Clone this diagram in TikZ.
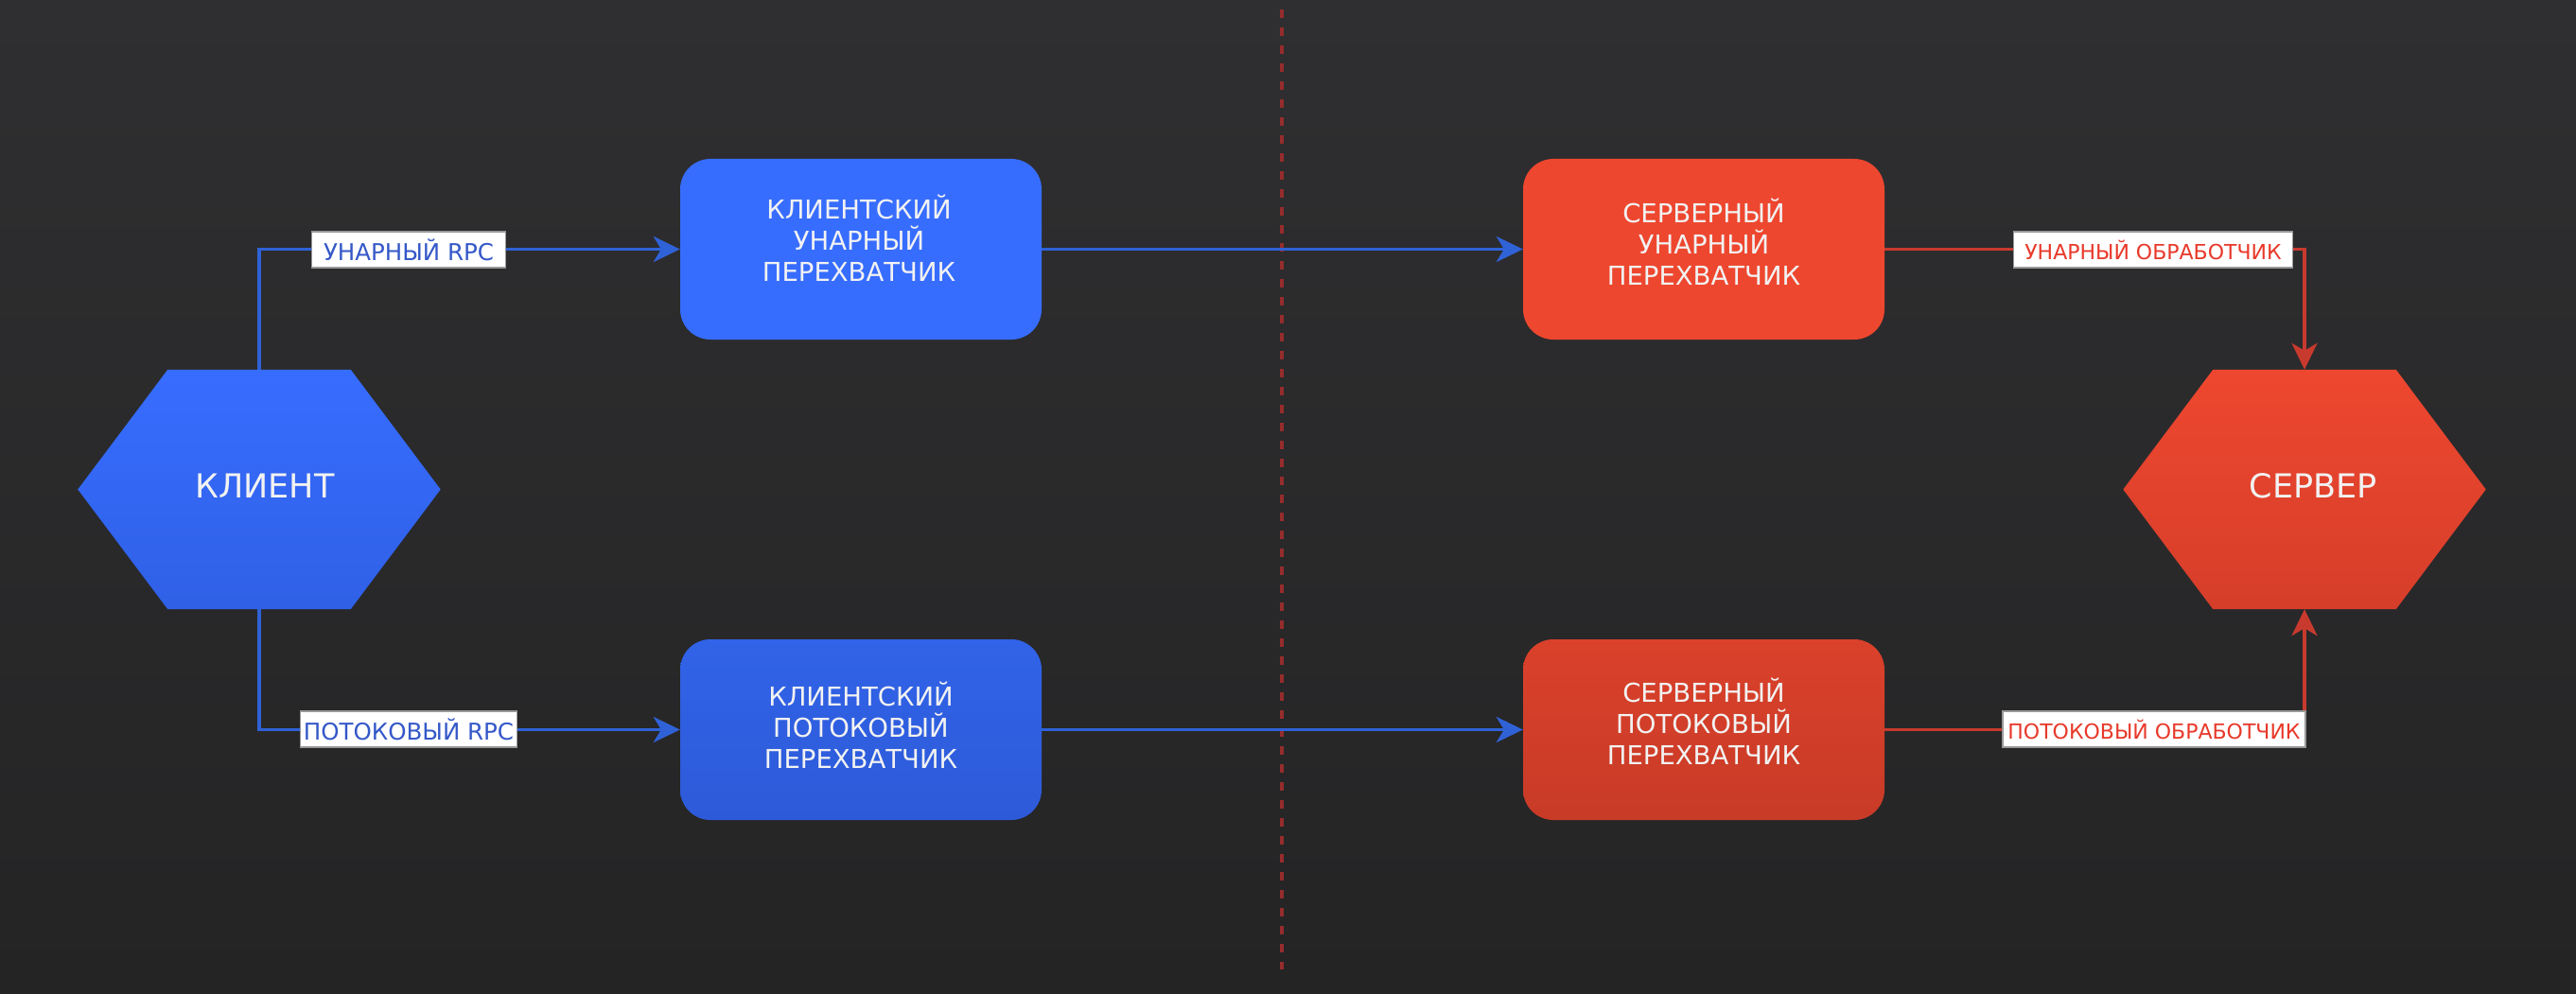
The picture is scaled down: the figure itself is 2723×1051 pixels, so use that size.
\documentclass[tikz,border=0pt]{standalone}
\usepackage{fontspec}
\setmainfont{DejaVu Sans}
\usetikzlibrary{arrows.meta,calc}
\definecolor{bgtop}{RGB}{47,47,49}
\definecolor{bgbot}{RGB}{36,36,37}
\definecolor{bluetop}{RGB}{55,109,255}
\definecolor{bluebot}{RGB}{47,96,230}
\definecolor{blue2top}{RGB}{49,99,232}
\definecolor{blue2bot}{RGB}{45,90,216}
\definecolor{redtop}{RGB}{238,71,47}
\definecolor{redbot}{RGB}{214,62,42}
\definecolor{red2top}{RGB}{218,65,43}
\definecolor{red2bot}{RGB}{200,59,39}
\definecolor{blueline}{RGB}{48,98,215}
\definecolor{redline}{RGB}{200,58,46}
\definecolor{bluetext}{RGB}{53,88,200}
\definecolor{redtext}{RGB}{232,57,42}
\definecolor{txt}{RGB}{242,242,242}
\definecolor{dashred}{RGB}{150,44,44}
\tikzset{
  x=1pt, y=-1pt,
  boxnode/.style={rounded corners=32pt, minimum width=382pt, minimum height=191pt,
    inner sep=0pt},
  boxtext/.style={text=txt, align=center, font=\fontsize{27.5}{33}\selectfont},
  hexnode/.style={minimum width=383pt, minimum height=253pt, inner sep=0pt},
  hextext/.style={text=txt, font=\fontsize{35}{42}\selectfont},
  lbl/.style={fill=white, draw=black!40, line width=1.5pt, inner xsep=3pt,
    minimum height=38pt},
  conn/.style={line width=3.5pt, -{Stealth[length=28pt,width=27pt,inset=8pt]}},
}
\begin{document}
\begin{tikzpicture}
\useasboundingbox (0,0) rectangle (2723,1051);
\shade[top color=bgtop, bottom color=bgbot] (0,0) rectangle (2723,1051);
% divider
\coordinate (dtop) at (1355,10);
\coordinate (dbot) at (1355,1025);
\draw[dashred, line width=3.5pt, dash pattern=on 9pt off 10pt] (dtop) -- (dbot);

% hexagons
\node[hexnode] (client) at (274,517.5) {};
\node[hexnode] (server) at (2436,517.5) {};
\foreach \h/\ct/\cb in {client/bluetop/bluebot, server/redtop/redbot}{
  \shade[top color=\ct, bottom color=\cb]
    (\h.west) -- ($(\h.north west)+(95,0)$) -- ($(\h.north east)+(-95,0)$) -- (\h.east)
    -- ($(\h.south east)+(-95,0)$) -- ($(\h.south west)+(95,0)$) -- cycle;
}
\node[hextext] at ($(client)+(6,-4)$) {КЛИЕНТ};
\node[hextext] at ($(server)+(9,-4)$) {СЕРВЕР};

% boxes
\node[boxnode, fill=bluetop] (ci1) at (910,263.5) {};
\node[boxnode, top color=blue2top, bottom color=blue2bot] (ci2) at (910,771.5) {};
\node[boxnode, fill=redtop] (si1) at (1801,263.5) {};
\node[boxnode, top color=red2top, bottom color=red2bot] (si2) at (1801,771.5) {};
\node[boxtext] at ($(ci1)+(-2,-12)$) {КЛИЕНТСКИЙ\\УНАРНЫЙ\\ПЕРЕХВАТЧИК};
\node[boxtext] at ($(ci2)+(0,-5)$) {КЛИЕНТСКИЙ\\ПОТОКОВЫЙ\\ПЕРЕХВАТЧИК};
\node[boxtext] at ($(si1)+(0,-8)$) {СЕРВЕРНЫЙ\\УНАРНЫЙ\\ПЕРЕХВАТЧИК};
\node[boxtext] at ($(si2)+(0,-9)$) {СЕРВЕРНЫЙ\\ПОТОКОВЫЙ\\ПЕРЕХВАТЧИК};

% connectors
\draw[conn, blueline] (client.north) |- (ci1.west);
\draw[conn, blueline] (client.south) |- (ci2.west);
\draw[conn, blueline] (ci1.east) -- (si1.west);
\draw[conn, blueline] (ci2.east) -- (si2.west);
\draw[conn, redline] (si1.east) -| (server.north);
\draw[conn, redline] (si2.east) -| (server.south);

% labels
\node[lbl, text=bluetext, minimum width=205pt, font=\fontsize{24.5}{28}\selectfont] (l1) at (432,264) {УНАРНЫЙ RPC};
\node[lbl, text=bluetext, minimum width=229pt, font=\fontsize{24.5}{28}\selectfont] (l2) at (432,771) {ПОТОКОВЫЙ RPC};
\node[lbl, text=redtext, minimum width=295pt, font=\fontsize{22}{26}\selectfont] (l3) at (2276,264) {УНАРНЫЙ ОБРАБОТЧИК};
\node[lbl, text=redtext, minimum width=320pt, font=\fontsize{22}{26}\selectfont] (l4) at (2277,771) {ПОТОКОВЫЙ ОБРАБОТЧИК};
\end{tikzpicture}
\end{document}
